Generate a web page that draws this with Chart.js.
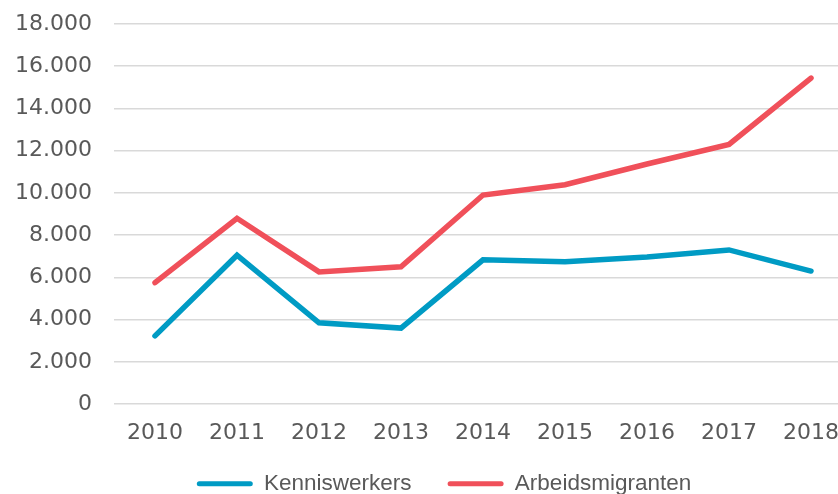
<!DOCTYPE html>
<html>
<head>
<meta charset="utf-8">
<script src="https://cdn.jsdelivr.net/npm/chart.js@4"></script>
<style>
  html, body { margin: 0; padding: 0; background: #fff; overflow: hidden; }
  #wrap { width: 838px; height: 494px; overflow: hidden; position: relative; }
  canvas { position: absolute; left: 0; top: 0; }
</style>
</head>
<body>
<div id="wrap"><canvas id="chart" width="860" height="531"></canvas></div>
<script>
const years = ['2010', '2011', '2012', '2013', '2014', '2015', '2016', '2017', '2018'];
const kenniswerkers = [3230, 7050, 3850, 3600, 6830, 6740, 6970, 7300, 6300];
const arbeidsmigranten = [5750, 8800, 6260, 6500, 9900, 10390, 11370, 12300, 15440];

const yTicks = [0, 2000, 4000, 6000, 8000, 10000, 12000, 14000, 16000, 18000];

const BLUE = '#009bc4';
const RED = '#f0505a';
const TEXT = '#595959';

function fmt(v) {
  return String(v).replace(/\B(?=(\d{3})+(?!\d))/g, '.');
}

// legenda verschuiven, zoals in het origineel
const legendShift = {
  id: 'legendShift',
  afterLayout: chart => {
    const lg = chart.legend;
    lg.left += 18;
    lg.right += 18;
    lg.top -= 26;
    lg.bottom -= 26;
  }
};

var chartConfig = {
  type: 'line',
  data: {
    labels: years,
    datasets: [{
      label: 'Kenniswerkers',
      data: kenniswerkers,
      borderColor: BLUE,
      backgroundColor: BLUE,
      borderWidth: 5.5,
      borderCapStyle: 'round',
      pointRadius: 0,
      tension: 0
    }, {
      label: 'Arbeidsmigranten',
      data: arbeidsmigranten,
      borderColor: RED,
      backgroundColor: RED,
      borderWidth: 5.5,
      borderCapStyle: 'round',
      pointRadius: 0,
      tension: 0
    }]
  },
  options: {
    responsive: false,
    animation: false,
    layout: {
      padding: {left: 0, right: 8, top: 24, bottom: 0}
    },
    scales: {
      x: {
        offset: true,
        afterFit: scale => { scale.paddingLeft = 0; scale.paddingRight = 0; },
        grid: {display: false, drawTicks: false},
        border: {display: false},
        ticks: {
          color: TEXT,
          padding: 16,
          maxRotation: 0,
          font: {family: 'DejaVu Sans', size: 22}
        }
      },
      y: {
        min: 0,
        max: 18000,
        afterFit: scale => {
          scale.width = 114;
          scale.paddingTop = 0;
          scale.paddingBottom = 0;
        },
        afterBuildTicks: scale => { scale.ticks = yTicks.map(v => ({value: v})); },
        grid: {color: '#d9d9d9', lineWidth: 1.5, drawTicks: false},
        border: {display: false},
        ticks: {
          color: TEXT,
          padding: 22,
          font: {family: 'DejaVu Sans', size: 22},
          callback: v => fmt(v)
        }
      }
    },
    plugins: {
      tooltip: {enabled: false},
      legend: {
        position: 'bottom',
        labels: {
          color: TEXT,
          boxWidth: 56,
          boxHeight: 5,
          padding: 36,
          useBorderRadius: true,
          borderRadius: 2.5,
          font: {family: 'Liberation Sans', size: 22.5},
          generateLabels: chart => Chart.defaults.plugins.legend.labels.generateLabels(chart)
            .map(item => Object.assign(item, {lineWidth: 0}))
        }
      }
    }
  },
  plugins: [legendShift]
};

var myChart = new Chart(document.getElementById('chart'), chartConfig);
</script>
</body>
</html>
